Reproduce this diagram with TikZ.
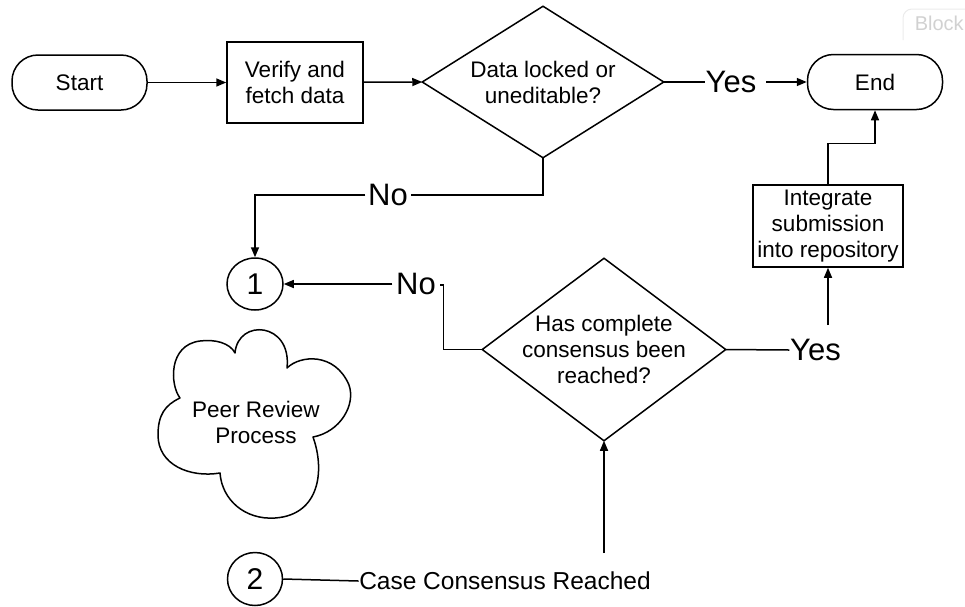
\documentclass[tikz,border=0pt]{standalone}
\usepackage{fontspec}
\setmainfont{Liberation Sans}
\usetikzlibrary{arrows.meta,shapes.geometric}
\begin{document}
\begin{tikzpicture}[x=1pt,y=-1pt,line width=1.5pt,
  txt/.style={font=\fontsize{22.5}{26}\selectfont, align=center},
  big/.style={font=\fontsize{31}{34}\selectfont, inner sep=0pt},
  term/.style={draw, rounded corners=26pt, minimum width=135pt, minimum height=55pt, txt},
  procbox/.style={draw, txt, inner sep=2pt},
  decision/.style={txt, inner sep=0pt},
  conn/.style={draw, ellipse, inner sep=0pt, font=\fontsize{30}{32}\selectfont},
  arr/.style={-{Triangle[length=10pt,width=8pt]}}]

\useasboundingbox (0,0) rectangle (965,606);

% faint button in the corner
\draw[draw=black!8, line width=1pt, rounded corners=9pt] (903,40) -- (903,9) -- (975,9);
\node[text=black!18, font=\fontsize{20}{22}\selectfont, anchor=west, inner sep=0pt] (blk) at (914,23) {Block};

% nodes
\node[term] (start) at (79.5,82.5) {Start};
\node[procbox, minimum width=136pt, minimum height=81pt] (verify) at (295,82.5) {Verify and\\fetch data};
\node[decision, minimum width=240pt, minimum height=150pt] (d1) at (543,82) {Data locked or\\uneditable?};
\draw (d1.west) -- (d1.north) -- (d1.east) -- (d1.south) -- cycle;
\node[big] (yes1) at (731,82) {Yes};
\node[term] (end) at (875,82) {End};
\node[procbox, minimum width=150pt, minimum height=82pt] (integ) at (828,226) {Integrate\\submission\\into repository};
\node[big] (no1) at (388,195) {No};
\node[conn, minimum width=56pt, minimum height=52pt] (c1) at (255,284) {1};
\node[big] (no2) at (416,284) {No};
\node[decision, minimum width=242pt, minimum height=181pt] (d2) at (604,349.5) {Has complete\\consensus been\\reached?};
\draw (d2.west) -- (d2.north) -- (d2.east) -- (d2.south) -- cycle;
\node[big] (yes2) at (815.5,350) {Yes};
\node[conn, minimum width=55pt, minimum height=53pt] (c2) at (255,579) {2};
\node[txt, font=\fontsize{24.5}{26}\selectfont, inner sep=0pt] (case) at (505,581) {Case Consensus Reached};

% cloud
\node[txt, inner sep=0pt] (cloudtxt) at (256,422) {Peer Review\\Process};
\draw[line join=round]
  (235,353) .. controls (238,318) and (292,322) .. (287,368)
  .. controls (300,355) and (335,352) .. (349,385)
  .. controls (356,405) and (340,432) .. (313,437)
  .. controls (325,470) and (320,515) .. (275,518)
  .. controls (245,520) and (222,500) .. (220,473)
  .. controls (190,478) and (158,465) .. (158,435)
  .. controls (158,415) and (165,405) .. (180,398)
  .. controls (170,385) and (168,345) .. (200,341)
  .. controls (215,339) and (230,343) .. cycle;

% connectors
\draw[arr] (start) -- (verify);
\draw[arr] (verify) -- (d1.west);
\draw (d1.east) -- (yes1.west);
\draw[arr] ([xshift=9pt]yes1.east) -- (end.west);
\draw (d1.south) |- ([xshift=2pt]no1.east);
\draw[arr] ([xshift=-2pt]no1.west) -| (c1.north);
\draw[arr] ([xshift=-3pt]no2.west) -- (c1.east);
\coordinate (hook) at (440,285);
\draw (d2.west) -- ++(-39,0) |- (hook);
\draw (d2.east) -- (yes2.west);
\coordinate (yesup) at (828,325);
\draw[arr] (yesup) -- (integ.south);
\draw[arr] (integ.north) -- ++(0,-41) -| (end.south);
\coordinate (caseup) at (604,553);
\draw[arr] (caseup) -- (d2.south);
\draw (c2.east) -- (case.west);
\end{tikzpicture}
\end{document}
